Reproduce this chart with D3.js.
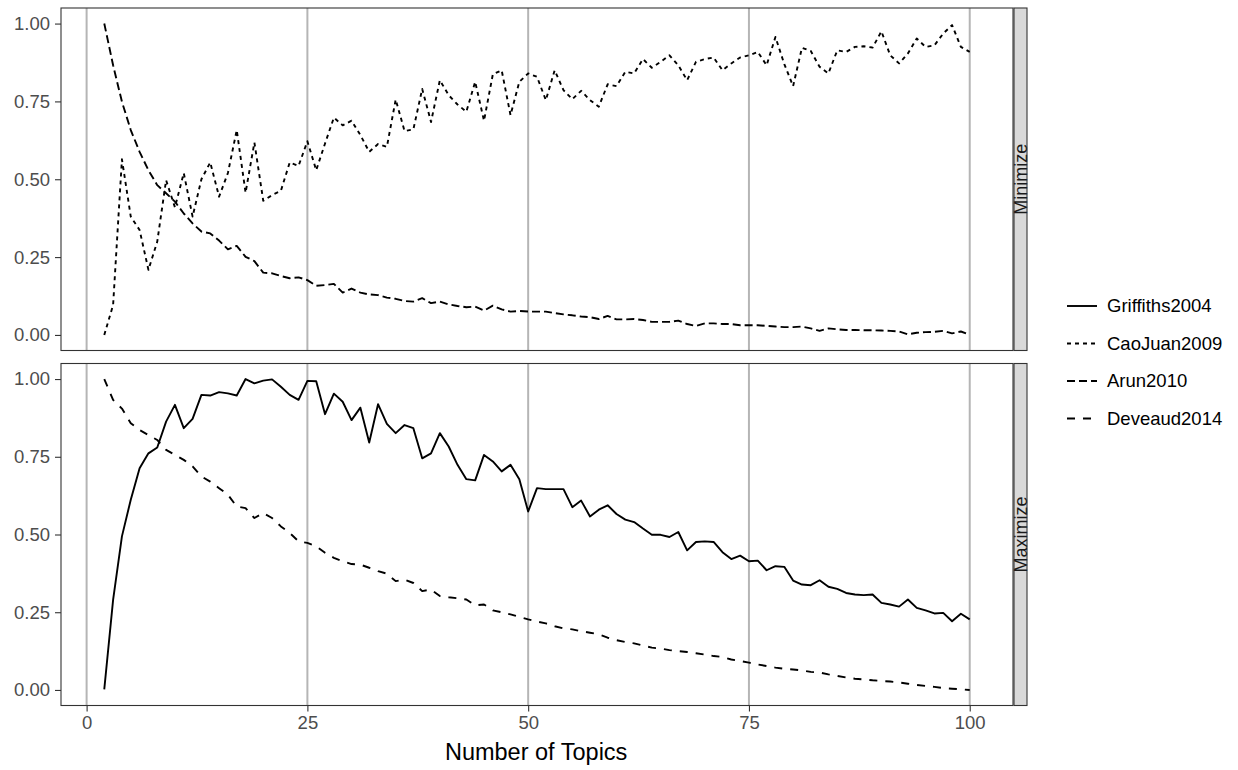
<!DOCTYPE html>
<html>
<head>
<meta charset="utf-8">
<script src="https://cdn.jsdelivr.net/npm/d3@7"></script>
<style>
  html, body { margin: 0; padding: 0; background: #ffffff; }
  svg { display: block; font-family: "Liberation Sans", Arial, Helvetica, sans-serif; }
</style>
</head>
<body>
<svg id="chart" width="1238" height="770"></svg>
<script>
// Number of topics evaluated
const topics = [2,3,4,5,6,7,8,9,10,11,12,13,14,15,16,17,18,19,20,21,22,23,24,25,26,27,28,29,30,
  31,32,33,34,35,36,37,38,39,40,41,42,43,44,45,46,47,48,49,50,51,52,53,54,55,56,57,58,59,60,
  61,62,63,64,65,66,67,68,69,70,71,72,73,74,75,76,77,78,79,80,81,82,83,84,85,86,87,88,89,90,
  91,92,93,94,95,96,97,98,99,100];

// Normalised metric values, one per topic count
const griffiths2004 = [0.002,0.29,0.494,0.612,0.713,0.761,0.78,0.863,0.917,0.842,0.872,0.949,0.947,0.958,0.954,0.947,1.0,0.986,0.995,
  0.999,0.975,0.949,0.933,0.994,0.993,0.887,0.953,0.927,0.868,0.908,0.796,0.919,0.856,0.826,0.852,0.842,0.745,0.761,0.826,
  0.783,0.724,0.678,0.674,0.756,0.735,0.703,0.724,0.678,0.574,0.649,0.646,0.646,0.646,0.588,0.609,0.558,0.58,0.594,0.566,
  0.548,0.54,0.519,0.499,0.499,0.492,0.508,0.449,0.476,0.478,0.476,0.443,0.421,0.432,0.414,0.416,0.385,0.398,0.396,0.352,
  0.339,0.337,0.353,0.332,0.325,0.312,0.307,0.305,0.307,0.28,0.275,0.268,0.291,0.264,0.256,0.246,0.248,0.221,0.245,0.227];

const caoJuan2009 = [0.0,0.096,0.564,0.38,0.337,0.209,0.30,0.497,0.41,0.52,0.38,0.50,0.554,0.444,0.52,0.658,0.457,0.618,0.431,
  0.449,0.463,0.554,0.543,0.622,0.529,0.615,0.698,0.673,0.688,0.642,0.588,0.613,0.604,0.756,0.655,0.66,0.79,0.684,0.818,
  0.77,0.74,0.717,0.813,0.688,0.837,0.85,0.706,0.813,0.84,0.829,0.754,0.85,0.786,0.757,0.784,0.754,0.733,0.805,0.799,
  0.845,0.84,0.886,0.858,0.877,0.898,0.866,0.818,0.877,0.886,0.891,0.85,0.872,0.891,0.898,0.909,0.866,0.957,0.87,0.799,
  0.922,0.912,0.861,0.84,0.914,0.909,0.925,0.927,0.923,0.975,0.898,0.872,0.904,0.952,0.925,0.93,0.968,0.995,0.925,0.909];

const arun2010 = [1.0,0.866,0.749,0.658,0.588,0.529,0.481,0.455,0.428,0.39,0.358,0.332,0.326,0.303,0.275,0.286,0.251,0.237,0.2,
  0.198,0.189,0.182,0.185,0.176,0.158,0.16,0.164,0.136,0.149,0.136,0.13,0.128,0.12,0.116,0.109,0.107,0.118,0.102,0.107,
  0.098,0.093,0.089,0.091,0.078,0.094,0.082,0.075,0.077,0.075,0.075,0.075,0.07,0.066,0.063,0.059,0.057,0.051,0.061,0.05,
  0.05,0.051,0.048,0.042,0.042,0.042,0.046,0.035,0.029,0.037,0.037,0.035,0.035,0.031,0.031,0.031,0.029,0.027,0.025,0.025,
  0.027,0.021,0.013,0.021,0.018,0.016,0.016,0.015,0.015,0.014,0.013,0.011,0.002,0.007,0.009,0.01,0.013,0.005,0.011,0.0];

const deveaud2014 = [1.0,0.933,0.905,0.858,0.836,0.82,0.804,0.772,0.756,0.74,0.719,0.687,0.67,0.649,0.628,0.59,0.585,0.553,0.569,
  0.553,0.526,0.505,0.478,0.473,0.462,0.441,0.425,0.414,0.405,0.403,0.393,0.382,0.374,0.35,0.355,0.344,0.318,0.323,0.302,
  0.298,0.295,0.291,0.272,0.275,0.256,0.25,0.243,0.235,0.227,0.22,0.214,0.205,0.198,0.195,0.189,0.184,0.179,0.168,0.16,
  0.154,0.15,0.143,0.136,0.133,0.128,0.125,0.122,0.118,0.114,0.109,0.106,0.098,0.093,0.088,0.082,0.077,0.072,0.068,0.066,
  0.063,0.058,0.056,0.05,0.045,0.04,0.036,0.034,0.031,0.029,0.027,0.024,0.02,0.016,0.013,0.01,0.006,0.004,0.002,0.0];

// Axis ticks, facet labels and legend entries
const xTicks = [0, 25, 50, 75, 100];
const yTicks = [0, 0.25, 0.5, 0.75, 1];
const panelNames = ["Minimize", "Maximize"];
const metricNames = ["Griffiths2004", "CaoJuan2009", "Arun2010", "Deveaud2014"];
const metricPanel = ["Maximize", "Minimize", "Minimize", "Maximize"];
const metricDash = [null, "4,4", "8,4", "8,8"];
const metricValues = [griffiths2004, caoJuan2009, arun2010, deveaud2014];

const svg = d3.select("#chart");

const panelLeft = 61, panelRight = 1013;
const panelBoxes = {
  Minimize: { top: 8, bottom: 350.5 },
  Maximize: { top: 363.5, bottom: 705.5 }
};

const x = d3.scaleLinear().domain([-2.9, 104.9]).range([panelLeft, panelRight]);

const yScales = {};
panelNames.forEach(p => {
  yScales[p] = d3.scaleLinear().domain([-0.05, 1.05]).range([panelBoxes[p].bottom, panelBoxes[p].top]);
});

const tickColor = "#333333";
const textColor = "#4d4d4d";
const smallFont = 18.5;

panelNames.forEach(p => {
  const box = panelBoxes[p];
  const y = yScales[p];
  const g = svg.append("g");

  g.append("rect")
    .attr("x", panelLeft).attr("y", box.top)
    .attr("width", panelRight - panelLeft).attr("height", box.bottom - box.top)
    .attr("fill", "#ffffff");

  // vertical major grid
  g.selectAll("line.grid").data(xTicks).join("line")
    .attr("class", "grid")
    .attr("x1", d => x(d)).attr("x2", d => x(d))
    .attr("y1", box.top).attr("y2", box.bottom)
    .attr("stroke", "#b5b5b5").attr("stroke-width", 2);

  // series belonging to this facet
  const line = d3.line().x((d, i) => x(topics[i])).y(d => y(d));
  metricNames.forEach((name, k) => {
    if (metricPanel[k] !== p) return;
    g.append("path")
      .datum(metricValues[k])
      .attr("d", line)
      .attr("fill", "none")
      .attr("stroke", "#000000")
      .attr("stroke-width", 1.9)
      .attr("stroke-dasharray", metricDash[k])
      .attr("stroke-linejoin", "round");
  });

  // panel border
  g.append("rect")
    .attr("x", panelLeft).attr("y", box.top)
    .attr("width", panelRight - panelLeft).attr("height", box.bottom - box.top)
    .attr("fill", "none").attr("stroke", tickColor).attr("stroke-width", 1.1);

  // y axis
  const yAxis = g.append("g")
    .attr("transform", `translate(${panelLeft},0)`)
    .call(d3.axisLeft(y).tickValues(yTicks).tickFormat(d3.format(".2f")).tickSize(6).tickPadding(5));
  yAxis.select(".domain").remove();
  yAxis.selectAll(".tick line").attr("stroke", tickColor).attr("stroke-width", 1.1);
  yAxis.selectAll(".tick text").attr("fill", textColor).attr("font-size", smallFont)
    .attr("font-family", "Liberation Sans, Arial, sans-serif");

  // facet strip
  const stripX = panelRight + 1, stripW = 13;
  g.append("rect")
    .attr("x", stripX).attr("y", box.top)
    .attr("width", stripW).attr("height", box.bottom - box.top)
    .attr("fill", "#d9d9d9").attr("stroke", tickColor).attr("stroke-width", 1.1);
  g.append("text")
    .attr("transform", `translate(${stripX + stripW / 2 + 0.5},${(box.top + box.bottom) / 2}) rotate(-90)`)
    .attr("text-anchor", "middle")
    .attr("dy", "0.35em")
    .attr("font-size", 18)
    .attr("fill", "#1a1a1a")
    .text(p);
});

// x axis under the lower facet
const xAxis = svg.append("g")
  .attr("transform", `translate(0,${panelBoxes.Maximize.bottom})`)
  .call(d3.axisBottom(x).tickValues(xTicks).tickSize(6).tickPadding(4));
xAxis.select(".domain").remove();
xAxis.selectAll(".tick line").attr("stroke", tickColor).attr("stroke-width", 1.1);
xAxis.selectAll(".tick text").attr("fill", textColor).attr("font-size", smallFont)
  .attr("font-family", "Liberation Sans, Arial, sans-serif");

svg.append("text")
  .attr("x", x(50) + 8).attr("y", 760)
  .attr("text-anchor", "middle")
  .attr("font-size", 23.5)
  .attr("fill", "#000000")
  .text("Number of Topics");

// legend
const legendX = 1067, legendY0 = 306, legendStep = 37.5;
const legend = svg.append("g");
metricNames.forEach((name, k) => {
  const yy = legendY0 + k * legendStep;
  legend.append("line")
    .attr("x1", legendX).attr("x2", legendX + 30)
    .attr("y1", yy).attr("y2", yy)
    .attr("stroke", "#000000").attr("stroke-width", 1.9)
    .attr("stroke-dasharray", metricDash[k]);
  legend.append("text")
    .attr("x", legendX + 40).attr("y", yy)
    .attr("dy", "0.35em")
    .attr("font-size", smallFont)
    .attr("fill", "#000000")
    .text(name);
});
</script>
</body>
</html>
